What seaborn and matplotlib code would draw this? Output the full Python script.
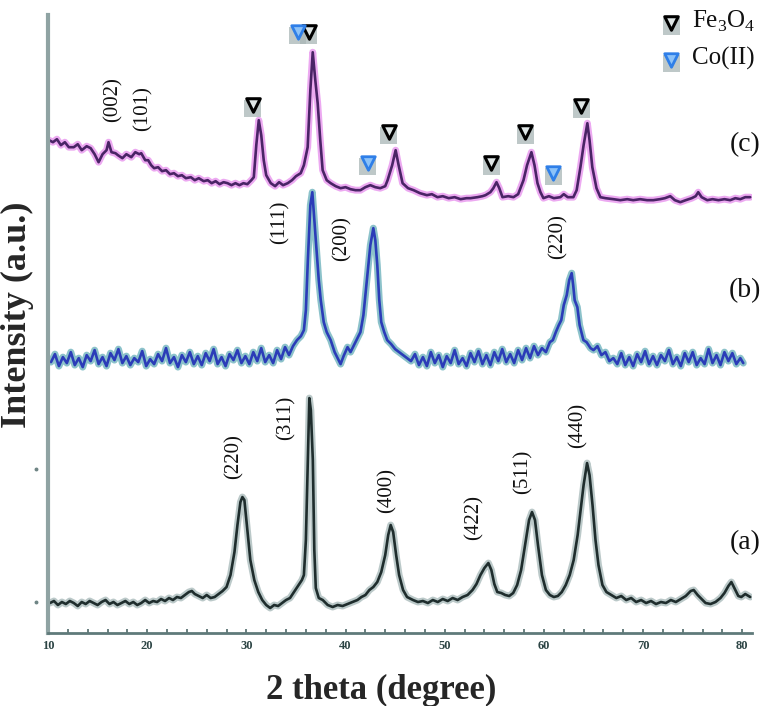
import seaborn as sns
import matplotlib.pyplot as plt
import matplotlib.transforms as mtransforms
import pandas as pd

# XRD patterns: (2 theta, intensity a.u.)
# (a) Fe3O4, plotted without offset
a_points = [
    (10.2, 57), (10.6, 59), (11.0, 55), (11.4, 58), (11.8, 56), (12.2, 59), (12.6, 57),
    (13.0, 54), (13.4, 58), (13.8, 56), (14.2, 59), (14.6, 57), (15.0, 55), (15.4, 58),
    (15.8, 60), (16.2, 56), (16.6, 58), (17.0, 55), (17.4, 57), (17.8, 59), (18.2, 56),
    (18.6, 58), (19.0, 55), (19.4, 57), (19.8, 60), (20.2, 57), (20.6, 59), (21.0, 58),
    (21.4, 61), (21.8, 59), (22.2, 62), (22.6, 60), (23.0, 63), (23.4, 62), (23.8, 65),
    (24.2, 68), (24.5, 69), (24.8, 66), (25.2, 64), (25.6, 62), (26.0, 65), (26.4, 62),
    (26.8, 63), (27.2, 66), (27.6, 69), (28.0, 73), (28.4, 85), (28.8, 108), (29.1, 135),
    (29.4, 158), (29.6, 163), (29.8, 160), (30.1, 130), (30.4, 100), (30.8, 80), (31.2, 68),
    (31.6, 60), (32.0, 55), (32.4, 52), (32.8, 55), (33.2, 54), (33.6, 57), (34.0, 60),
    (34.4, 62), (34.8, 68), (35.2, 74), (35.6, 80), (35.8, 85), (36.0, 120), (36.2, 200),
    (36.35, 262), (36.5, 250), (36.7, 200), (36.85, 110), (37.0, 72), (37.3, 62), (37.7, 60),
    (38.2, 55), (38.7, 53), (39.2, 55), (39.7, 54), (40.2, 56), (40.7, 58), (41.2, 60),
    (41.6, 63), (42.0, 65), (42.4, 70), (42.8, 73), (43.2, 78), (43.6, 88), (44.0, 105),
    (44.3, 125), (44.55, 135), (44.8, 128), (45.1, 105), (45.4, 85), (45.8, 70), (46.2, 63),
    (46.8, 60), (47.3, 58), (47.8, 59), (48.3, 57), (48.8, 60), (49.3, 58), (49.8, 61),
    (50.3, 59), (50.8, 62), (51.3, 60), (51.8, 63), (52.3, 65), (52.8, 70), (53.2, 76),
    (53.6, 85), (54.0, 92), (54.4, 97), (54.7, 90), (55.0, 76), (55.3, 68), (55.7, 67),
    (56.1, 65), (56.5, 64), (56.9, 67), (57.3, 75), (57.7, 90), (58.1, 115), (58.5, 140),
    (58.8, 148), (59.1, 140), (59.4, 115), (59.8, 85), (60.2, 70), (60.6, 65), (61.0, 63),
    (61.4, 64), (61.8, 68), (62.2, 75), (62.6, 85), (63.0, 100), (63.4, 125), (63.7, 150),
    (64.0, 175), (64.35, 197), (64.6, 185), (64.9, 155), (65.2, 120), (65.5, 95), (65.9, 75),
    (66.3, 68), (66.8, 65), (67.3, 62), (67.8, 64), (68.3, 60), (68.8, 62), (69.3, 58),
    (69.8, 60), (70.3, 57), (70.8, 59), (71.3, 56), (71.8, 58), (72.3, 57), (72.8, 60),
    (73.3, 58), (73.8, 61), (74.3, 64), (74.8, 69), (75.1, 70), (75.5, 65), (75.9, 61),
    (76.3, 57), (76.8, 56), (77.3, 58), (77.8, 62), (78.2, 67), (78.6, 74), (78.9, 78),
    (79.2, 72), (79.6, 64), (79.9, 63), (80.3, 66), (80.8, 63),
]

# (b) second sample, relative intensity
b_points = [
    (10.3, 48), (10.7, 56), (11.1, 44), (11.5, 53), (11.9, 47), (12.3, 58), (12.7, 45),
    (13.1, 52), (13.5, 43), (13.9, 55), (14.3, 49), (14.7, 60), (15.1, 46), (15.5, 53),
    (15.9, 44), (16.3, 57), (16.7, 50), (17.1, 61), (17.5, 47), (17.9, 54), (18.3, 45),
    (18.7, 52), (19.1, 48), (19.5, 59), (19.9, 44), (20.3, 51), (20.7, 46), (21.1, 56),
    (21.5, 49), (21.9, 62), (22.3, 47), (22.7, 53), (23.1, 43), (23.5, 55), (23.9, 48),
    (24.3, 58), (24.7, 46), (25.1, 54), (25.5, 45), (25.9, 57), (26.3, 49), (26.7, 61),
    (27.1, 46), (27.5, 53), (27.9, 44), (28.3, 56), (28.7, 50), (29.1, 60), (29.5, 47),
    (29.9, 54), (30.3, 46), (30.7, 58), (31.1, 49), (31.5, 62), (31.9, 48), (32.3, 55),
    (32.7, 47), (33.1, 60), (33.5, 51), (33.9, 63), (34.3, 55), (34.7, 64), (35.1, 70),
    (35.5, 74), (35.8, 80), (36.0, 100), (36.2, 150), (36.45, 205), (36.65, 218), (36.85, 190),
    (37.0, 170), (37.3, 130), (37.5, 110), (37.8, 88), (38.1, 78), (38.5, 70), (38.9, 58),
    (39.2, 52), (39.5, 46), (39.8, 54), (40.2, 63), (40.5, 58), (40.9, 66), (41.2, 72),
    (41.5, 78), (41.8, 95), (42.0, 115), (42.25, 140), (42.5, 165), (42.8, 182), (43.0, 170),
    (43.2, 145), (43.4, 110), (43.6, 88), (43.9, 78), (44.2, 70), (44.6, 66), (45.0, 61),
    (45.4, 58), (45.8, 55), (46.2, 52), (46.6, 49), (47.0, 56), (47.4, 45), (47.8, 53),
    (48.2, 44), (48.6, 58), (49.0, 47), (49.4, 55), (49.8, 43), (50.2, 54), (50.6, 47),
    (51.0, 60), (51.4, 46), (51.8, 52), (52.2, 44), (52.6, 57), (53.0, 48), (53.4, 59),
    (53.8, 46), (54.2, 55), (54.6, 45), (55.0, 58), (55.4, 49), (55.8, 61), (56.2, 48),
    (56.6, 56), (57.0, 47), (57.4, 60), (57.8, 50), (58.2, 62), (58.6, 52), (59.0, 64),
    (59.4, 55), (59.8, 62), (60.2, 58), (60.6, 68), (60.9, 70), (61.2, 78), (61.5, 85),
    (61.75, 90), (62.0, 105), (62.3, 115), (62.55, 130), (62.8, 137), (62.95, 125), (63.1, 110),
    (63.37, 103), (63.6, 85), (63.98, 70), (64.3, 68), (64.7, 62), (65.0, 60), (65.4, 64),
    (65.8, 55), (66.2, 58), (66.6, 49), (67.0, 52), (67.4, 46), (67.8, 57), (68.2, 45),
    (68.6, 53), (69.0, 44), (69.4, 56), (69.8, 48), (70.2, 59), (70.6, 46), (71.0, 54),
    (71.4, 45), (71.8, 55), (72.2, 49), (72.6, 60), (73.0, 46), (73.4, 53), (73.8, 44),
    (74.2, 57), (74.6, 48), (75.0, 58), (75.4, 45), (75.8, 52), (76.2, 46), (76.6, 61),
    (77.0, 47), (77.4, 55), (77.8, 45), (78.2, 58), (78.6, 49), (79.0, 57), (79.4, 46),
    (79.8, 52), (80.1, 47),
]

# (c) third sample, relative intensity
c_points = [
    (10.1, 120), (10.5, 118), (10.9, 121), (11.3, 115), (11.7, 118), (12.1, 113), (12.6, 113),
    (13.0, 116), (13.4, 110), (13.9, 114), (14.3, 112), (14.7, 106), (15.1, 98), (15.5, 106),
    (15.9, 110), (16.1, 118), (16.4, 108), (16.8, 107), (17.05, 105), (17.5, 102), (17.9, 106),
    (18.4, 103), (18.8, 108), (19.2, 106), (19.4, 107), (19.8, 100), (20.1, 100), (20.4, 95),
    (20.7, 92), (21.1, 93), (21.5, 89), (21.9, 90), (22.3, 86), (22.7, 87), (23.1, 84),
    (23.5, 85), (23.9, 82), (24.4, 83), (24.8, 80), (25.2, 82), (25.7, 79), (26.1, 80),
    (26.5, 77), (26.9, 79), (27.3, 76), (27.7, 78), (28.1, 77), (28.5, 75), (28.9, 77),
    (29.3, 75), (29.7, 77), (30.1, 76), (30.5, 80), (30.75, 83), (31.0, 115), (31.25, 140),
    (31.5, 125), (31.75, 100), (32.0, 85), (32.46, 77), (32.9, 74), (33.3, 78), (33.7, 75),
    (34.17, 77), (34.6, 80), (35.0, 84), (35.48, 87), (35.8, 95), (36.18, 113), (36.45, 170),
    (36.69, 208), (36.95, 180), (37.19, 157), (37.45, 120), (37.69, 90), (38.1, 80), (38.5, 77),
    (39.0, 74), (39.5, 72), (40.0, 73), (40.5, 71), (41.0, 70), (41.5, 70), (42.0, 73),
    (42.5, 75), (43.0, 73), (43.5, 72), (44.0, 74), (44.24, 80), (44.7, 95), (45.05, 110),
    (45.35, 95), (45.75, 77), (46.3, 72), (46.86, 70), (47.5, 67), (48.2, 65), (48.7, 66),
    (49.27, 63), (49.8, 64), (50.4, 62), (51.0, 63), (51.6, 61), (52.2, 62), (52.6, 62),
    (53.3, 63), (53.8, 64), (54.11, 65), (54.6, 68), (54.9, 72), (55.22, 78), (55.5, 72),
    (55.82, 63), (56.4, 64), (56.93, 63), (57.4, 66), (57.94, 80), (58.3, 95), (58.74, 108),
    (59.05, 95), (59.35, 77), (59.65, 68), (59.95, 62), (60.5, 64), (61.0, 62), (61.66, 63),
    (62.0, 66), (62.4, 63), (62.97, 63), (63.3, 70), (63.68, 93), (64.0, 115), (64.38, 137),
    (64.6, 120), (64.88, 93), (65.3, 72), (65.69, 63), (66.2, 62), (67.0, 61), (67.7, 60),
    (68.4, 61), (69.0, 60), (69.7, 61), (70.4, 60), (71.03, 60), (71.7, 61), (72.2, 62),
    (72.74, 64), (73.2, 60), (73.75, 58), (74.3, 60), (74.9, 62), (75.3, 64), (75.56, 68),
    (75.9, 63), (76.47, 60), (77.0, 61), (77.6, 60), (78.2, 61), (78.78, 60), (79.3, 62),
    (79.8, 61), (80.3, 63), (80.8, 63),
]

offsets = {'a': 0, 'b': 250, 'c': 400}

# phase markers on pattern (c): (2 theta, relative height)
fe3o4_marks = [(30.64, 155), (36.28, 228), (44.34, 128), (54.71, 97), (58.14, 128), (63.78, 154)]
co_marks = [(35.18, 228), (42.23, 97), (60.96, 87)]

# hkl labels: (text, 2 theta, height incl. offset)
a_labels = [('(220)', 28.73, 204), ('(311)', 33.97, 242), ('(400)', 44.14, 170),
            ('(422)', 52.9, 143), ('(511)', 57.9, 188), ('(440)', 63.4, 235)]
b_labels = [('(111)', 33.36, 438), ('(200)', 39.6, 422), ('(220)', 61.46, 424)]
c_labels = [('(002)', 16.53, 561), ('(101)', 19.57, 552)]
curve_tags = [('(a)', 80.3, 117), ('(b)', 80.3, 370), ('(c)', 80.3, 516)]

x_ticks = [10, 20, 30, 40, 50, 60, 70, 80]

sns.set_theme(style='white')
plt.rcParams['font.family'] = ['Liberation Serif', 'DejaVu Serif']
plt.rcParams['mathtext.fontset'] = 'custom'
plt.rcParams['mathtext.rm'] = 'Liberation Serif'

fig = plt.figure(figsize=(7.73, 7.06), dpi=100)
ax = fig.add_axes([0.0621, 0.1034, 0.911, 0.875])

styles = {
    'a': ('#1f2d2d', '#8fa5a5'),
    'b': ('#2b3cb8', '#3f9aa8'),
    'c': ('#4a2466', '#e070e8'),
}
for key, pts in [('a', a_points), ('b', b_points), ('c', c_points)]:
    df = pd.DataFrame(pts, columns=['two_theta', 'intensity'])
    df['intensity'] = df['intensity'] + offsets[key]
    core, halo = styles[key]
    # soft halo, then the darker trace on top
    sns.lineplot(data=df, x='two_theta', y='intensity', ax=ax, sort=False,
                 estimator=None, color=halo, lw=5, alpha=0.6)
    sns.lineplot(data=df, x='two_theta', y='intensity', ax=ax, sort=False,
                 estimator=None, color=core, lw=1.9)

# triangle markers with grey square behind
def draw_marks(marks, face, edge, lw):
    df = pd.DataFrame(marks, columns=['two_theta', 'h'])
    df['h'] = df['h'] + offsets['c']
    sns.scatterplot(x=df['two_theta'], y=df['h'] - 3, ax=ax, marker='s', s=150,
                    color='#a9b6b6', alpha=0.75, edgecolor='none', zorder=4)
    sns.scatterplot(x=df['two_theta'], y=df['h'], ax=ax, marker='v', s=95,
                    facecolor=face, edgecolor=edge, linewidth=lw, zorder=5)

draw_marks(fe3o4_marks, '#dfe6e6', 'black', 2.2)
draw_marks(co_marks, '#8cc2f8', '#2f7fe8', 2.0)

# legend drawn by hand, top right
for y, face, edge, lw, txt in [(637, '#dfe6e6', 'black', 2.2, 'Fe$_3$O$_4$'),
                               (600, '#8cc2f8', '#2f7fe8', 2.0, 'Co(II)')]:
    ax.scatter([72.84], [y - 3], marker='s', s=150, color='#a9b6b6', alpha=0.75,
               edgecolor='none', zorder=4, clip_on=False)
    ax.scatter([72.84], [y], marker='v', s=95, facecolor=face, edgecolor=edge,
               linewidth=lw, zorder=5, clip_on=False)
    ax.text(74.9, y + 2, txt, fontsize=18, va='center', ha='left', color='#111111')

for txt, x, y in a_labels + b_labels + c_labels:
    ax.text(x, y, txt, rotation=90, fontsize=15, ha='center', va='center', color='#111111')
for txt, x, y in curve_tags:
    ax.text(x, y, txt, fontsize=20, ha='center', va='center', color='#111111', clip_on=False)

ax.set_xlim(10.1, 81.0)
ax.set_ylim(27, 645)
ax.set_xticks(x_ticks)
ax.set_xticks(range(10, 82, 2), minor=True)
ax.set_xticklabels([str(t) for t in x_ticks], fontsize=9, fontweight='bold', color='#2d4545')
ax.set_yticks([])
ax.tick_params(axis='x', which='both', direction='in', length=3, width=1.2,
               color='#4f6a6a', pad=5, bottom=True)

for side in ['top', 'right']:
    ax.spines[side].set_visible(False)
ax.spines['left'].set_color('#8fa3a3')
ax.spines['left'].set_linewidth(3)
ax.spines['bottom'].set_color('#5f7a7a')
ax.spines['bottom'].set_linewidth(2)

# two tiny tick dots left of the y axis
trans = mtransforms.blended_transform_factory(ax.transAxes, ax.transData)
ax.plot([-0.017, -0.017], [58, 191], ls='none', marker='o', ms=1.8,
        color='#6f8585', transform=trans, clip_on=False)

ax.set_xlabel('2 theta (degree)', fontsize=25, fontweight='bold', va='center')
ax.set_ylabel('Intensity (a.u.)', fontsize=26, fontweight='bold', va='center')
ax.xaxis.set_label_coords(0.473, -0.093)
ax.yaxis.set_label_coords(-0.044, 0.515)

fig.savefig('out.png', dpi=100)
